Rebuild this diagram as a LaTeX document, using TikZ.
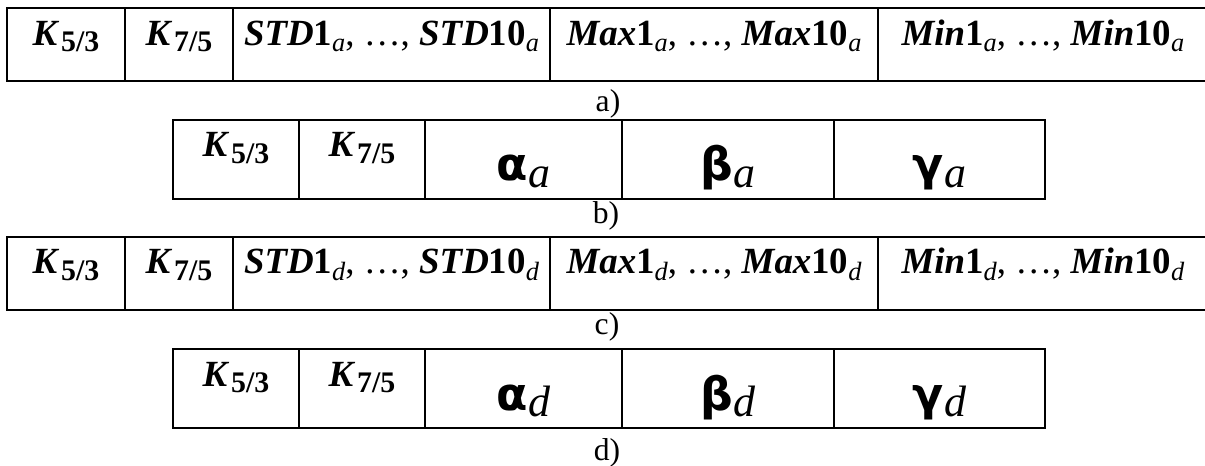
\documentclass[tikz,border=0pt]{standalone}
\usepackage{fontspec}
\setmainfont{Liberation Serif}
\newfontfamily\grkfont{DejaVu Sans}
\usetikzlibrary{positioning}

\newcommand{\sub}[2][15]{\raisebox{-1.3mm}{\fontsize{#1}{16}\selectfont #2}}
\newcommand{\kval}[1]{\textbf{\textit{K}}\kern1pt\sub[17]{\bfseries #1}}
\newcommand{\stat}[2]{{\bfseries\itshape #1}\textbf{1}\sub{\itshape #2}, …, {\bfseries\itshape #1}\textbf{10}\sub{\itshape #2}}
\newcommand{\gsym}[2]{{\grkfont\bfseries\fontsize{26}{28}\selectfont #1}\raisebox{-1.3mm}{\fontsize{25}{28}\selectfont\itshape #2}}

\begin{document}
\begin{tikzpicture}[x=0.2mm, y=-0.2mm,
    cell/.style={draw, line width=0.4mm, inner sep=0pt, outer sep=0pt,
                 font=\fontsize{21}{24}\selectfont},
    rowa/.style={cell, minimum width=#1, text height=7.4mm, text depth=7.2mm},
    rowb/.style={cell, minimum width=#1, text height=7.4mm, text depth=8.4mm},
    grk/.style={cell, minimum width=#1, text height=12.2mm, text depth=3.6mm},
    tag/.style={font=\fontsize{18}{20}\selectfont, inner sep=0pt, anchor=base}
]
\useasboundingbox (0,0) rectangle (1205,465);

% a) features of the approximation
\node[rowa=23.6mm, anchor=north west] (a1) at (7,8) {\kval{5/3}};
\node[rowa=21.6mm, right=0pt of a1] (a2) {\kval{7/5}};
\node[rowa=63.4mm, right=0pt of a2] (a3) {\stat{STD}{a}};
\node[rowa=65.6mm, right=0pt of a3] (a4) {\stat{Max}{a}};
\node[rowa=66mm,   right=0pt of a4] (a5) {\stat{Min}{a}};
\node[tag] (la) at (608,111) {a)};

% b)
\node[rowb=25.2mm, anchor=north west] (b1) at (173,119.5) {\kval{5/3}};
\node[rowb=25.2mm, right=0pt of b1] (b2) {\kval{7/5}};
\node[grk=39.4mm,  right=0pt of b2] (b3) {\gsym{α}{a}};
\node[grk=42.4mm,  right=0pt of b3] (b4) {\gsym{β}{a}};
\node[grk=42.2mm,  right=0pt of b4] (b5) {\gsym{γ}{a}};
\node[tag] (lb) at (606,223) {b)};

% c) features of the details
\node[rowa=23.6mm, anchor=north west] (c1) at (7,236.5) {\kval{5/3}};
\node[rowa=21.6mm, right=0pt of c1] (c2) {\kval{7/5}};
\node[rowa=63.4mm, right=0pt of c2] (c3) {\stat{STD}{d}};
\node[rowa=65.6mm, right=0pt of c3] (c4) {\stat{Max}{d}};
\node[rowa=66mm,   right=0pt of c4] (c5) {\stat{Min}{d}};
\node[tag] (lc) at (607,334) {c)};

% d)
\node[rowb=25.2mm, anchor=north west] (d1) at (173,349) {\kval{5/3}};
\node[rowb=25.2mm, right=0pt of d1] (d2) {\kval{7/5}};
\node[grk=39.4mm,  right=0pt of d2] (d3) {\gsym{α}{d}};
\node[grk=42.4mm,  right=0pt of d3] (d4) {\gsym{β}{d}};
\node[grk=42.2mm,  right=0pt of d4] (d5) {\gsym{γ}{d}};
\node[tag] (ld) at (607,460) {d)};
\end{tikzpicture}
\end{document}
